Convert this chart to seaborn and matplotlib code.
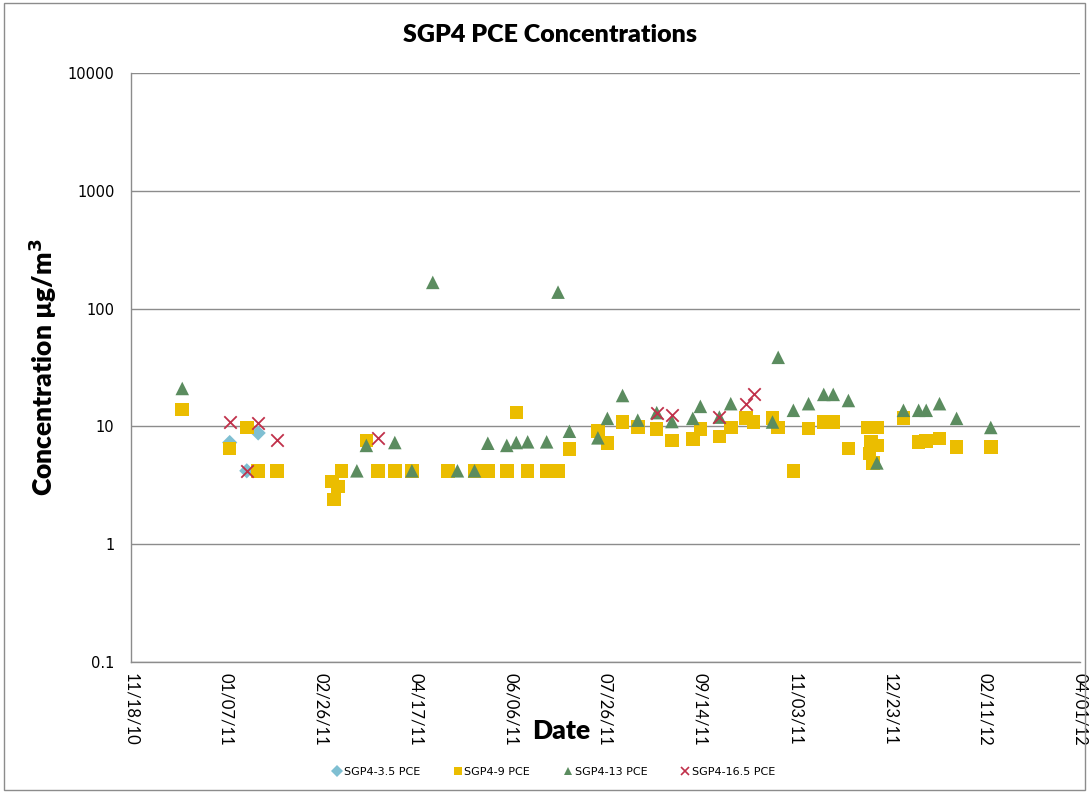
import pandas as pd
import matplotlib
matplotlib.use("Agg")
import matplotlib.pyplot as plt
import matplotlib.dates as mdates
from matplotlib.ticker import FixedLocator, FuncFormatter, NullLocator
from matplotlib.patches import Rectangle
from matplotlib.lines import Line2D
import seaborn as sns

# SGP4-3.5 PCE
dates_35 = ["2011-01-09", "2011-01-18", "2011-01-24"]
vals_35 = [7.3, 4.2, 8.8]

# SGP4-9 PCE
dates_9 = ["2010-12-15", "2011-01-09", "2011-01-18", "2011-01-24", "2011-02-03",
           "2011-03-04", "2011-03-05", "2011-03-07", "2011-03-09", "2011-03-22",
           "2011-03-28", "2011-04-06", "2011-04-15", "2011-05-04", "2011-05-18",
           "2011-05-25", "2011-06-04", "2011-06-09", "2011-06-15", "2011-06-25",
           "2011-07-01", "2011-07-07", "2011-07-22", "2011-07-27", "2011-08-04",
           "2011-08-12", "2011-08-22", "2011-08-30", "2011-09-10", "2011-09-14",
           "2011-09-24", "2011-09-30", "2011-10-08", "2011-10-12", "2011-10-22",
           "2011-10-25", "2011-11-02", "2011-11-10", "2011-11-18", "2011-11-23",
           "2011-12-01", "2011-12-11", "2011-12-12", "2011-12-13", "2011-12-14",
           "2011-12-16", "2011-12-16", "2011-12-30", "2012-01-07", "2012-01-11",
           "2012-01-18", "2012-01-27", "2012-02-14"]
vals_9 = [13.9, 6.5, 9.8, 4.2, 4.2,
          3.4, 2.4, 3.1, 4.2, 7.6,
          4.2, 4.2, 4.2, 4.2, 4.2,
          4.2, 4.2, 13.1, 4.2, 4.2,
          4.2, 6.4, 9.1, 7.2, 10.9,
          9.9, 9.5, 7.6, 7.8, 9.5,
          8.2, 9.8, 11.8, 10.9, 11.8,
          9.8, 4.2, 9.6, 10.9, 10.9,
          6.5, 9.8, 5.9, 7.4, 4.9,
          9.8, 6.9, 11.8, 7.4, 7.5,
          7.9, 6.7, 6.7]

# SGP4-13 PCE
dates_13 = ["2010-12-15", "2011-03-17", "2011-03-22", "2011-04-06", "2011-04-15",
            "2011-04-26", "2011-05-09", "2011-05-18", "2011-05-25", "2011-06-04",
            "2011-06-09", "2011-06-15", "2011-06-25", "2011-07-01", "2011-07-07",
            "2011-07-22", "2011-07-27", "2011-08-04", "2011-08-12", "2011-08-22",
            "2011-08-30", "2011-09-10", "2011-09-14", "2011-09-24", "2011-09-30",
            "2011-10-22", "2011-10-25", "2011-11-02", "2011-11-10", "2011-11-18",
            "2011-11-23", "2011-12-01", "2011-12-16", "2011-12-30", "2012-01-07",
            "2012-01-11", "2012-01-18", "2012-01-27", "2012-02-14"]
vals_13 = [21, 4.2, 6.9, 7.3, 4.2,
           167, 4.2, 4.2, 7.2, 6.9,
           7.3, 7.4, 7.4, 138, 9.1,
           8.0, 11.7, 18.3, 11.3, 13.1,
           11.0, 11.7, 14.8, 12.0, 15.6,
           10.9, 38.6, 13.7, 15.6, 18.7,
           18.7, 16.6, 4.9, 13.7, 13.7,
           13.7, 15.6, 11.7, 9.8]

# SGP4-16.5 PCE
dates_165 = ["2011-01-09", "2011-01-18", "2011-01-24", "2011-02-03", "2011-03-28",
             "2011-08-22", "2011-08-30", "2011-09-24", "2011-10-08", "2011-10-12"]
vals_165 = [10.8, 4.2, 10.6, 7.6, 8.0,
            13.1, 12.4, 12.0, 15.6, 18.7]

series_names = ["SGP4-3.5 PCE", "SGP4-9 PCE", "SGP4-13 PCE", "SGP4-16.5 PCE"]
y_ticks = [0.1, 1, 10, 100, 1000, 10000]

sns.set_style("white")
plt.rcParams["font.family"] = ["DejaVu Sans"]
plt.rcParams["text.color"] = "black"
plt.rcParams["xtick.color"] = "black"
plt.rcParams["ytick.color"] = "black"

fig = plt.figure(figsize=(10.89, 7.92), dpi=100)
ax = fig.add_axes([0.1203, 0.1641, 0.8714, 0.7437])

styles = [
    (dates_35, vals_35, "D", "#7fbfd2", 60, None),
    (dates_9, vals_9, "s", "#ebbd00", 95, None),
    (dates_13, vals_13, "^", "#5b8c5f", 95, None),
    (dates_165, vals_165, "x", "#c0304a", 80, 1.3),
]

handles = []
for (d, v, m, c, s, lw), name in zip(styles, series_names):
    df = pd.DataFrame({"date": pd.to_datetime(d), "value": v})
    if m == "x":
        sns.scatterplot(data=df, x="date", y="value", marker=m, color=c, s=s,
                        linewidth=lw, ax=ax, zorder=3)
    else:
        sns.scatterplot(data=df, x="date", y="value", marker=m, color=c, s=s,
                        edgecolor="none", ax=ax, zorder=3)
    handles.append(Line2D([], [], linestyle="none", marker=m, color=c,
                          markersize=6,
                          markeredgewidth=1.2 if m == "x" else 0))

ax.set_yscale("log")
ax.set_ylim(0.1, 10000)
ax.yaxis.set_major_locator(FixedLocator(y_ticks))
ax.yaxis.set_minor_locator(NullLocator())
ax.yaxis.set_major_formatter(FuncFormatter(lambda v, p: f"{v:g}"))

start = pd.Timestamp("2010-11-18")
end = pd.Timestamp("2012-04-01")
ax.set_xlim(start, end)
ax.xaxis.set_major_locator(FixedLocator(mdates.date2num(pd.date_range(start, end, freq="50D"))))
ax.xaxis.set_major_formatter(mdates.DateFormatter("%m/%d/%y"))

ax.grid(axis="y", color="#8c8c8c", linewidth=1)
ax.set_axisbelow(True)
for side in ["top", "right"]:
    ax.spines[side].set_visible(False)
for side in ["left", "bottom"]:
    ax.spines[side].set_color("#8c8c8c")
    ax.spines[side].set_linewidth(1)

ax.tick_params(axis="x", length=5, color="#8c8c8c", labelcolor="black", direction="out", pad=3)
ax.tick_params(axis="y", length=0, pad=12, labelcolor="black")
for lab in ax.get_yticklabels():
    lab.set_fontsize(10.5)
for lab in ax.get_xticklabels():
    lab.set_fontsize(12)
    lab.set_family("Lato")
    lab.set_rotation(-90)

ax.set_xlabel("")
ax.set_ylabel("")
fig.text(0.505, 0.956, "SGP4 PCE Concentrations", ha="center", va="center",
         fontsize=18, fontweight="heavy", family="Lato", color="black")
fig.text(0.0395, 0.537, "Concentration µg/m$^{\\mathbf{3}}$", ha="center", va="center",
         rotation=90, fontsize=19, fontweight="heavy", family="Lato", color="black")
fig.text(0.5155, 0.0775, "Date", ha="center", va="center",
         fontsize=19, fontweight="heavy", family="Lato", color="black")

fig.legend(handles, series_names, loc="center", bbox_to_anchor=(0.508, 0.025),
           ncol=4, frameon=False, fontsize=8, handletextpad=0.1, columnspacing=2.9,
           handlelength=1.0, labelcolor="black")

fig.patches.append(Rectangle((0.004, 0.003), 0.992, 0.993, transform=fig.transFigure,
                             fill=False, edgecolor="#8c8c8c", linewidth=1))

fig.savefig("out.png", dpi=100)
